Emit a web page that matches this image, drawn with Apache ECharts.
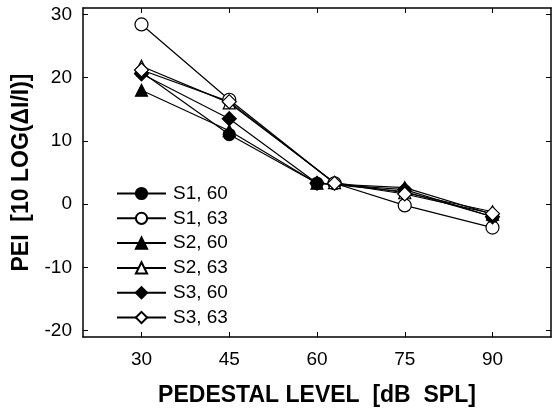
<!DOCTYPE html>
<html><head><meta charset="utf-8">
<script src="https://cdn.jsdelivr.net/npm/echarts@6/dist/echarts.min.js"></script>
<style>html,body{margin:0;padding:0;background:#fff}#c{width:552px;height:412px}</style>
</head><body><div id="c"></div>
<script>
var xTicks = [30, 45, 60, 75, 90];
var yTicks = [-20, -10, 0, 10, 20, 30];
var xLevels60 = [30, 45, 60, 75, 90];
var xLevels63 = [30, 45, 63, 75, 90];
var s1_60 = [20.9, 11.0, 3.3, 2.0, -2.0];
var s1_63 = [28.4, 16.5, 3.3, -0.2, -3.7];
var s2_60 = [18.0, 11.6, 3.3, 2.6, -1.6];
var s2_63 = [21.8, 16.0, 3.4, 1.8, -1.2];
var s3_60 = [20.6, 13.5, 3.3, 2.3, -2.0];
var s3_63 = [21.2, 16.2, 3.3, 1.6, -1.5];
var names = ['S1, 60', 'S1, 63', 'S2, 60', 'S2, 63', 'S3, 60', 'S3, 63'];

function pts(xs, ys){ return xs.map(function(x,i){return [x, ys[i]];}); }
function mk(name, xs, ys, symbol, filled, size){
  return {
    name: name, type: 'line', data: pts(xs, ys), symbol: symbol, symbolSize: size,
    lineStyle: {color: '#000', width: 1.2},
    itemStyle: {color: filled ? '#000' : '#fff', borderColor: '#000', borderWidth: 1.2},
    emphasis: {disabled: true}, animation: false, z: 3
  };
}
var FF = 'Liberation Sans, Arial, sans-serif';
var chart = echarts.init(document.getElementById('c'), null, {renderer: 'canvas'});
var axisFont = {fontFamily: FF, fontSize: 19, color: '#000'};
chart.setOption({
  animation: false,
  grid: {left: 83, right: 1, top: 8, bottom: 74, containLabel: false},
  legend: {
    orient: 'vertical', left: 111, top: 179,
    itemWidth: 49, itemHeight: 14, itemGap: 5.8,
    textStyle: {fontFamily: FF, fontSize: 19, lineHeight: 19, color: '#000', padding: [0,0,0,2]},
    data: names
  },
  xAxis: [{
    type: 'value', min: 20, max: 100, position: 'bottom',
    name: 'PEDESTAL LEVEL  [dB  SPL]', nameLocation: 'middle', nameGap: 47,
    nameTextStyle: {fontFamily: FF, fontSize: 23, fontWeight: 'bold', color: '#000'},
    axisLine: {onZero: false, lineStyle: {color: '#000', width: 1.5}},
    axisTick: {inside: true, length: 5, customValues: xTicks, lineStyle: {color: '#000'}},
    axisLabel: Object.assign({customValues: xTicks, margin: 13}, axisFont),
    splitLine: {show: false}
  }, {
    type: 'value', min: 20, max: 100, position: 'top',
    axisLine: {onZero: false, lineStyle: {color: '#000', width: 1.5}},
    axisTick: {inside: true, length: 5, customValues: xTicks, lineStyle: {color: '#000'}},
    axisLabel: {show: false}, splitLine: {show: false}
  }],
  yAxis: [{
    type: 'value', min: -21, max: 31, position: 'left',
    name: 'PEI  [10 LOG(ΔI/I)]', nameLocation: 'middle', nameGap: 45, nameRotate: 90,
    nameTextStyle: {fontFamily: FF, fontSize: 23, fontWeight: 'bold', color: '#000'},
    axisLine: {show: true, onZero: false, lineStyle: {color: '#000', width: 1.5}},
    axisTick: {show: true, inside: true, length: 5, customValues: yTicks, lineStyle: {color: '#000'}},
    axisLabel: Object.assign({customValues: yTicks, margin: 11}, axisFont),
    splitLine: {show: false}
  }, {
    type: 'value', min: -21, max: 31, position: 'right',
    axisLine: {show: true, onZero: false, lineStyle: {color: '#000', width: 1.5}},
    axisTick: {show: true, inside: true, length: 5, customValues: yTicks, lineStyle: {color: '#000'}},
    axisLabel: {show: false}, splitLine: {show: false}
  }],
  series: [
    mk(names[0], xLevels60, s1_60, 'circle', true, 12),
    mk(names[1], xLevels63, s1_63, 'circle', false, 13),
    mk(names[2], xLevels60, s2_60, 'triangle', true, 12),
    mk(names[3], xLevels63, s2_63, 'triangle', false, 12),
    mk(names[4], xLevels60, s3_60, 'diamond', true, 14),
    mk(names[5], xLevels63, s3_63, 'diamond', false, 14)
  ]
});
</script></body></html>
